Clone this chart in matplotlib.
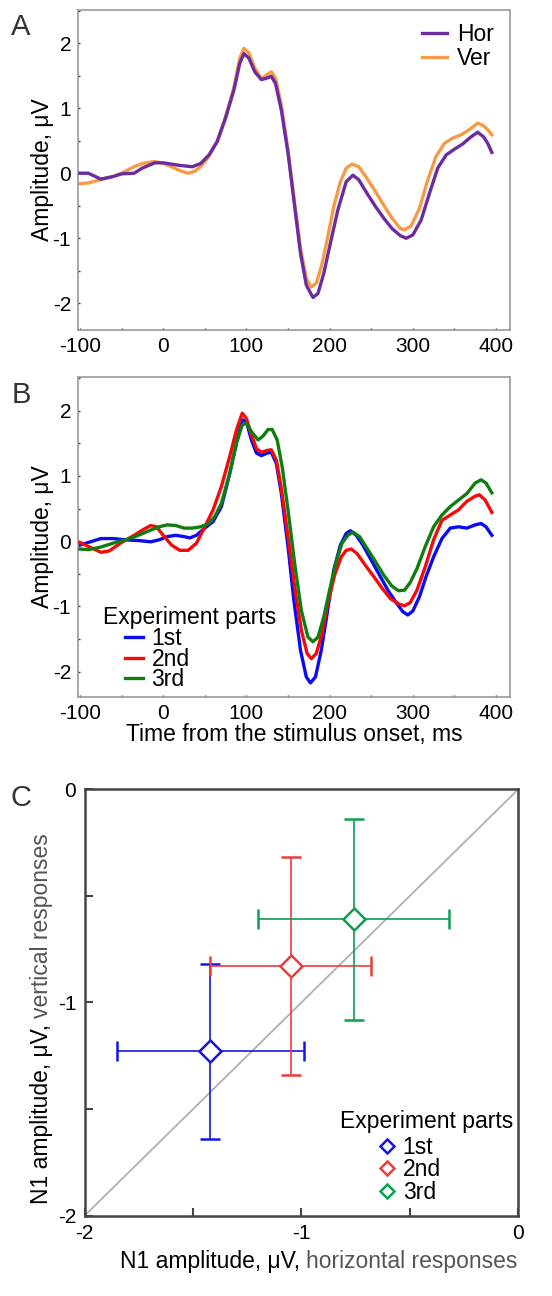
import numpy as np
import matplotlib
matplotlib.use("Agg")
import matplotlib.pyplot as plt
from matplotlib.ticker import MultipleLocator

plt.rcParams['font.family'] = ['Liberation Sans', 'DejaVu Sans']

# panel A: averaged ERPs, horizontal vs vertical
t_hor = [-100, -90, -75, -60, -50, -35, -25, -10, 0, 10, 20, 35, 45, 55, 65, 75, 85, 92, 97,
         103, 110, 118, 124, 130, 135, 142, 150, 158, 165, 172, 180, 186, 193, 200, 210, 220,
         228, 235, 245, 255, 265, 275, 285, 292, 300, 310, 320, 330, 340, 350, 360, 370, 378,
         385, 390, 395]
hor = [0.0, 0.0, -0.09, -0.05, -0.01, 0.0, 0.08, 0.16, 0.16, 0.14, 0.12, 0.10, 0.15, 0.28, 0.49,
       0.85, 1.28, 1.69, 1.84, 1.77, 1.56, 1.44, 1.46, 1.49, 1.38, 0.97, 0.31, -0.51, -1.23,
       -1.72, -1.91, -1.85, -1.54, -1.13, -0.56, -0.13, -0.03, -0.10, -0.31, -0.51, -0.69,
       -0.85, -0.96, -1.00, -0.95, -0.72, -0.31, 0.08, 0.28, 0.37, 0.45, 0.56, 0.63, 0.56,
       0.46, 0.32]
t_ver = [-100, -90, -75, -60, -50, -35, -25, -10, 0, 10, 20, 30, 38, 45, 55, 65, 75, 85, 92, 97,
         103, 110, 118, 124, 130, 135, 142, 150, 158, 165, 172, 178, 184, 190, 197, 205, 213,
         220, 227, 235, 245, 255, 265, 275, 285, 290, 298, 308, 318, 328, 338, 348, 358, 368,
         378, 385, 390, 395]
ver = [-0.16, -0.15, -0.10, -0.05, 0.0, 0.10, 0.15, 0.18, 0.15, 0.10, 0.04, 0.0, 0.03, 0.10,
       0.26, 0.49, 0.87, 1.32, 1.77, 1.92, 1.85, 1.62, 1.45, 1.51, 1.56, 1.46, 1.05, 0.36,
       -0.46, -1.15, -1.62, -1.75, -1.69, -1.44, -1.03, -0.51, -0.13, 0.08, 0.14, 0.10, -0.08,
       -0.28, -0.49, -0.69, -0.85, -0.87, -0.81, -0.54, -0.10, 0.26, 0.46, 0.54, 0.59, 0.67,
       0.77, 0.73, 0.67, 0.59]

# panel B: ERPs by experiment part
t_1st = [-100, -90, -75, -60, -45, -30, -15, -5, 5, 15, 25, 32, 40, 50, 60, 70, 80, 88, 95, 100,
         106, 112, 118, 125, 130, 136, 142, 150, 157, 165, 172, 177, 183, 190, 197, 205, 213,
         220, 225, 232, 240, 250, 260, 270, 280, 288, 294, 300, 308, 316, 325, 335, 345, 355,
         365, 375, 382, 388, 395]
p_1st = [-0.06, -0.02, 0.04, 0.04, 0.02, 0.01, -0.01, 0.02, 0.07, 0.09, 0.07, 0.05, 0.09, 0.20,
         0.30, 0.53, 1.04, 1.50, 1.86, 1.83, 1.55, 1.35, 1.31, 1.35, 1.36, 1.19, 0.73, -0.08,
         -0.90, -1.67, -2.08, -2.17, -2.08, -1.67, -1.11, -0.44, -0.06, 0.12, 0.16, 0.09, -0.06,
         -0.29, -0.52, -0.75, -0.94, -1.08, -1.13, -1.07, -0.85, -0.54, -0.24, 0.04, 0.20, 0.22,
         0.20, 0.25, 0.27, 0.22, 0.09]
t_2nd = [-100, -90, -75, -65, -50, -35, -25, -15, -8, 0, 10, 20, 30, 40, 50, 60, 70, 80, 88, 95,
         100, 106, 112, 118, 125, 130, 136, 142, 150, 158, 166, 173, 178, 184, 191, 198, 206,
         214, 220, 226, 233, 243, 253, 263, 273, 283, 290, 297, 305, 315, 325, 335, 345, 355,
         365, 375, 380, 387, 395]
p_2nd = [-0.02, -0.08, -0.17, -0.15, -0.02, 0.09, 0.17, 0.24, 0.22, 0.09, -0.06, -0.14, -0.14,
         -0.03, 0.22, 0.48, 0.84, 1.30, 1.70, 1.96, 1.88, 1.63, 1.42, 1.36, 1.39, 1.40, 1.24,
         0.81, 0.07, -0.70, -1.36, -1.72, -1.80, -1.72, -1.41, -0.95, -0.52, -0.24, -0.14, -0.12,
         -0.19, -0.37, -0.54, -0.72, -0.88, -0.96, -0.99, -0.94, -0.75, -0.39, 0.02, 0.32, 0.40,
         0.48, 0.61, 0.69, 0.71, 0.63, 0.44]
t_3rd = [-100, -90, -75, -60, -45, -30, -15, -5, 5, 15, 25, 35, 45, 55, 62, 70, 80, 88, 95, 100,
         106, 114, 120, 126, 131, 137, 143, 150, 158, 166, 174, 180, 186, 193, 200, 208, 215,
         222, 228, 236, 245, 255, 265, 275, 283, 290, 297, 305, 315, 325, 335, 345, 355, 365,
         375, 382, 388, 395]
p_3rd = [-0.12, -0.13, -0.09, -0.03, 0.02, 0.09, 0.17, 0.22, 0.25, 0.24, 0.20, 0.20, 0.22, 0.27,
         0.38, 0.58, 1.04, 1.50, 1.78, 1.81, 1.68, 1.55, 1.61, 1.71, 1.71, 1.55, 1.14, 0.48,
         -0.34, -1.06, -1.47, -1.54, -1.47, -1.16, -0.75, -0.31, -0.03, 0.09, 0.14, 0.07, -0.11,
         -0.31, -0.52, -0.69, -0.76, -0.75, -0.63, -0.42, -0.08, 0.22, 0.40, 0.53, 0.63, 0.73,
         0.89, 0.94, 0.89, 0.74]

# panel C: N1 amplitudes, mean +- error
parts = ['1st', '2nd', '3rd']
n1_hor = [-1.42, -1.05, -0.76]
n1_ver = [-1.23, -0.83, -0.61]
err_hor = [0.43, 0.37, 0.44]
err_ver = [0.41, 0.51, 0.47]

fig = plt.figure(figsize=(5.52, 12.96), dpi=100)

def style_erp(ax):
    ax.set_xlim(-102.4, 416.8)
    ax.set_xticks([-100, 0, 100, 200, 300, 400])
    ax.set_yticks([-2, -1, 0, 1, 2])
    ax.set_yticklabels(['-2', '-1', '0', '1', '2'])
    ax.set_xticklabels(['-100', '0', '100', '200', '300', '400'])
    ax.xaxis.set_minor_locator(MultipleLocator(50))
    ax.yaxis.set_minor_locator(MultipleLocator(0.5))
    for s in ax.spines.values():
        s.set_color('#9a9a9a')
        s.set_linewidth(1.2)
    ax.tick_params(which='both', direction='in', length=1.5, width=1, color='#333333',
                   labelsize=15, pad=5)
    ax.set_ylabel('Amplitude, μV', fontsize=16.5, labelpad=-1)

# A
axA = fig.add_axes([0.1413, 0.7454, 0.7826, 0.2469])
axA.plot(t_hor, hor, color='#6a2c9e', lw=2.4, label='Hor', zorder=3)
axA.plot(t_ver, ver, color='#f79a48', lw=2.4, label='Ver', zorder=2)
axA.set_ylim(-2.41, 2.51)
style_erp(axA)
axA.legend(loc='upper right', frameon=False, fontsize=16.5, handlelength=1.1,
           handletextpad=0.45, labelspacing=0.05, borderaxespad=0.1,
           bbox_to_anchor=(0.99, 0.995))
fig.text(0.038, 0.979, 'A', fontsize=21, color='#333333', ha='center', va='center')

# B
axB = fig.add_axes([0.1413, 0.4620, 0.7826, 0.2474])
axB.plot(t_1st, p_1st, color='#0a0af5', lw=2.4, label='1st', zorder=2)
axB.plot(t_2nd, p_2nd, color='#f50a0a', lw=2.4, label='2nd', zorder=3)
axB.plot(t_3rd, p_3rd, color='#0f7d0f', lw=2.4, label='3rd', zorder=4)
axB.set_ylim(-2.39, 2.52)
style_erp(axB)
axB.set_xlabel('Time from the stimulus onset, ms', fontsize=16.5, labelpad=0)
axB.legend(loc='lower left', frameon=False, fontsize=16.5, handlelength=0.8,
           handletextpad=0.35, labelspacing=-0.1, borderaxespad=0, borderpad=0,
           bbox_to_anchor=(0.109, 0.018))
axB.text(0.058, 0.25, 'Experiment parts', transform=axB.transAxes, fontsize=16.5,
         ha='left', va='center')
fig.text(0.038, 0.695, 'B', fontsize=21, color='#333333', ha='center', va='center')

# C
axC = fig.add_axes([0.1534, 0.0620, 0.7855, 0.3290])
axC.plot([-2, 0], [-2, 0], color='#b0b0b0', lw=1.3, zorder=1)
colsC = ['#1414e6', '#ef3b3b', '#0aa050']
for i in range(3):
    axC.errorbar(n1_hor[i], n1_ver[i], xerr=err_hor[i], yerr=err_ver[i], fmt='D',
                 color=colsC[i], mfc='white', mec=colsC[i], mew=1.8, ms=11,
                 elinewidth=1.2, capsize=7, capthick=1.2, label=parts[i], zorder=3)
axC.set_xlim(-2, 0)
axC.set_ylim(-2, 0)
axC.set_xticks([-2, -1.5, -1, -0.5, 0])
axC.set_xticklabels(['-2', '', '-1', '', '0'])
axC.set_yticks([-2, -1.5, -1, -0.5, 0])
axC.set_yticklabels(['-2', '', '-1', '', '0'])
for s in axC.spines.values():
    s.set_color('#444444')
    s.set_linewidth(1.8)
axC.tick_params(direction='in', length=6, width=1.5, color='#444444', labelsize=15, pad=6)

h, l = axC.get_legend_handles_labels()
h = [hh[0] for hh in h]
axC.legend(h, l, loc='lower left', frameon=False, fontsize=16.5, markerscale=0.65,
           handlelength=1.0, handletextpad=0.2, labelspacing=-0.03, borderaxespad=0,
           borderpad=0, bbox_to_anchor=(0.67, 0.028))
axC.text(0.988, 0.22, 'Experiment parts', transform=axC.transAxes, fontsize=16.5,
         ha='right', va='center')

# two-colour axis labels
xl1 = fig.text(0.2174, 0.027, 'N1 amplitude, μV, ', fontsize=16.5, ha='left', va='center')
fig.canvas.draw()
axC.annotate('horizontal responses', xy=(1, 0), xycoords=xl1, fontsize=16.5,
             color='#555555', ha='left', va='bottom', annotation_clip=False)
yl1 = fig.text(0.076, 0.071, 'N1 amplitude, μV, ', fontsize=16.5, rotation=90,
               ha='center', va='bottom')
axC.annotate('vertical responses', xy=(0.5, 1), xycoords=yl1, fontsize=16.5,
             color='#555555', rotation=90, ha='center', va='bottom', annotation_clip=False)
fig.text(0.038, 0.384, 'C', fontsize=21, color='#333333', ha='center', va='center')

fig.savefig('out.png', dpi=100)
